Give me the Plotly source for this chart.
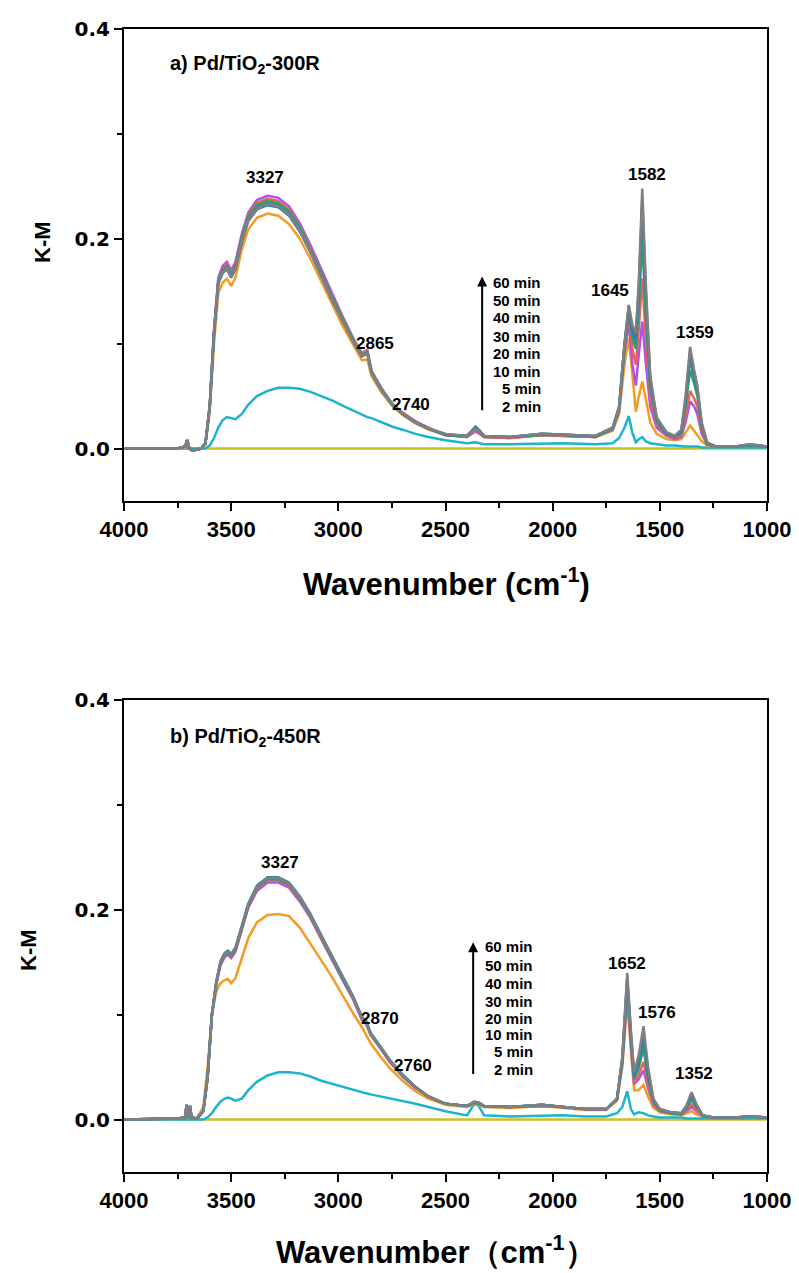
import plotly.graph_objects as go

# ---------------- data: panel a (Pd/TiO2-300R) ----------------
WN_A = [4000, 3750, 3715, 3705, 3695, 3680, 3640, 3620, 3600, 3580,
        3560, 3540, 3520, 3500, 3480, 3450, 3420, 3380, 3330, 3280,
        3230, 3180, 3130, 3080, 3030, 2980, 2930, 2890, 2865, 2845,
        2800, 2750, 2700, 2640, 2580, 2500, 2400, 2360, 2340, 2320,
        2200, 2050, 1950, 1800, 1720, 1690, 1665, 1645, 1628, 1612,
        1598, 1582, 1566, 1545, 1515, 1470, 1430, 1400, 1380, 1359,
        1340, 1325, 1305, 1280, 1240, 1150, 1080, 1000]

CYAN_A = [0, 0, 0, 0, 0, 0, 0, 0, 0.003, 0.010,
          0.020, 0.027, 0.030, 0.029, 0.028, 0.033, 0.042, 0.050, 0.055, 0.058,
          0.058, 0.057, 0.054, 0.050, 0.046, 0.041, 0.036, 0.032, 0.030, 0.029,
          0.025, 0.021, 0.018, 0.014, 0.011, 0.008, 0.005, 0.006, 0.005, 0.004,
          0.004, 0.005, 0.005, 0.004, 0.005, 0.010, 0.020, 0.031, 0.015, 0.006,
          0.009, 0.011, 0.007, 0.005, 0.004, 0.003, 0.003, 0.002, 0.002, 0.002,
          0.002, 0.002, 0.001, 0.001, 0.001, 0.001, 0.001, 0.001]
ORANGE_A = [0.000, 0.000, 0.001, 0.006, 0.000, -0.002, 0.000, 0.004, 0.035, 0.100,
            0.148, 0.158, 0.162, 0.155, 0.163, 0.190, 0.209, 0.220, 0.224, 0.222,
            0.214, 0.200, 0.181, 0.159, 0.138, 0.117, 0.098, 0.084, 0.085, 0.069,
            0.054, 0.041, 0.032, 0.024, 0.018, 0.013, 0.011, 0.016, 0.014, 0.011,
            0.010, 0.013, 0.012, 0.011, 0.017, 0.033, 0.080, 0.105, 0.070, 0.035,
            0.050, 0.064, 0.048, 0.025, 0.014, 0.009, 0.008, 0.009, 0.015, 0.022,
            0.017, 0.013, 0.007, 0.003, 0.002, 0.002, 0.003, 0.002]
MAGENTA_A = [0.000, 0.000, 0.002, 0.008, 0.000, -0.002, 0.000, 0.005, 0.041, 0.114,
             0.163, 0.174, 0.178, 0.170, 0.178, 0.205, 0.225, 0.237, 0.241, 0.239,
             0.231, 0.215, 0.194, 0.171, 0.148, 0.126, 0.105, 0.091, 0.094, 0.074,
             0.058, 0.043, 0.034, 0.026, 0.020, 0.013, 0.011, 0.017, 0.014, 0.011,
             0.010, 0.013, 0.012, 0.011, 0.018, 0.036, 0.092, 0.120, 0.080, 0.060,
             0.090, 0.121, 0.083, 0.040, 0.020, 0.012, 0.009, 0.011, 0.025, 0.045,
             0.040, 0.033, 0.014, 0.004, 0.002, 0.002, 0.003, 0.002]
RED_A = [0.000, 0.000, 0.002, 0.008, 0.000, -0.002, 0.000, 0.005, 0.041, 0.112,
         0.161, 0.172, 0.176, 0.167, 0.176, 0.202, 0.223, 0.234, 0.238, 0.236,
         0.228, 0.212, 0.192, 0.168, 0.146, 0.125, 0.104, 0.090, 0.093, 0.074,
         0.057, 0.043, 0.034, 0.026, 0.019, 0.013, 0.011, 0.018, 0.015, 0.011,
         0.010, 0.013, 0.012, 0.011, 0.019, 0.037, 0.095, 0.128, 0.095, 0.080,
         0.115, 0.162, 0.107, 0.049, 0.023, 0.013, 0.010, 0.013, 0.030, 0.055,
         0.048, 0.040, 0.017, 0.004, 0.002, 0.002, 0.003, 0.002]
GREEN_A = [0.000, 0.000, 0.002, 0.008, 0.000, -0.002, 0.000, 0.005, 0.040, 0.110,
           0.160, 0.170, 0.174, 0.166, 0.174, 0.201, 0.221, 0.232, 0.236, 0.234,
           0.226, 0.211, 0.190, 0.167, 0.145, 0.124, 0.103, 0.089, 0.092, 0.073,
           0.057, 0.043, 0.033, 0.025, 0.019, 0.013, 0.012, 0.020, 0.016, 0.012,
           0.011, 0.013, 0.013, 0.011, 0.019, 0.038, 0.097, 0.132, 0.105, 0.095,
           0.135, 0.200, 0.130, 0.058, 0.026, 0.014, 0.011, 0.015, 0.040, 0.075,
           0.062, 0.050, 0.021, 0.005, 0.002, 0.002, 0.003, 0.002]
TEAL_A = [0.000, 0.000, 0.002, 0.008, 0.000, -0.002, 0.000, 0.005, 0.040, 0.110,
          0.159, 0.169, 0.173, 0.165, 0.173, 0.199, 0.219, 0.230, 0.234, 0.232,
          0.224, 0.209, 0.189, 0.166, 0.144, 0.122, 0.102, 0.088, 0.091, 0.072,
          0.056, 0.042, 0.033, 0.025, 0.019, 0.013, 0.012, 0.021, 0.017, 0.012,
          0.011, 0.014, 0.013, 0.012, 0.020, 0.039, 0.098, 0.134, 0.110, 0.100,
          0.148, 0.225, 0.145, 0.064, 0.028, 0.015, 0.011, 0.016, 0.044, 0.085,
          0.068, 0.055, 0.023, 0.005, 0.002, 0.002, 0.003, 0.002]
BLUE_A = [0.000, 0.000, 0.002, 0.008, 0.000, -0.002, 0.000, 0.005, 0.040, 0.110,
          0.157, 0.167, 0.171, 0.163, 0.171, 0.197, 0.217, 0.228, 0.232, 0.230,
          0.222, 0.207, 0.187, 0.164, 0.142, 0.122, 0.102, 0.088, 0.091, 0.072,
          0.056, 0.042, 0.033, 0.025, 0.019, 0.014, 0.012, 0.020, 0.017, 0.012,
          0.011, 0.014, 0.013, 0.012, 0.020, 0.040, 0.099, 0.136, 0.114, 0.105,
          0.155, 0.238, 0.153, 0.067, 0.029, 0.015, 0.012, 0.017, 0.047, 0.092,
          0.072, 0.058, 0.024, 0.006, 0.002, 0.002, 0.004, 0.002]
GRAY_A = [0.000, 0.000, 0.002, 0.008, 0.000, -0.002, 0.000, 0.005, 0.040, 0.110,
          0.158, 0.168, 0.172, 0.164, 0.172, 0.198, 0.218, 0.229, 0.233, 0.231,
          0.223, 0.208, 0.188, 0.165, 0.143, 0.122, 0.102, 0.088, 0.091, 0.072,
          0.056, 0.042, 0.033, 0.025, 0.019, 0.014, 0.012, 0.019, 0.016, 0.012,
          0.011, 0.014, 0.013, 0.012, 0.020, 0.040, 0.100, 0.137, 0.118, 0.110,
          0.160, 0.248, 0.160, 0.070, 0.030, 0.016, 0.012, 0.018, 0.050, 0.097,
          0.075, 0.060, 0.025, 0.006, 0.002, 0.002, 0.004, 0.002]

# ---------------- data: panel b (Pd/TiO2-450R) ----------------
WN_B = [4000, 3750, 3715, 3708, 3700, 3692, 3685, 3660, 3630, 3610,
        3590, 3570, 3550, 3530, 3515, 3500, 3480, 3450, 3420, 3380,
        3330, 3280, 3230, 3180, 3130, 3080, 3030, 2980, 2930, 2890,
        2870, 2850, 2800, 2760, 2700, 2640, 2580, 2500, 2400, 2365,
        2345, 2320, 2200, 2050, 1950, 1850, 1750, 1700, 1675, 1652,
        1635, 1620, 1600, 1576, 1555, 1530, 1500, 1450, 1400, 1375,
        1352, 1330, 1300, 1250, 1150, 1080, 1000]

CYAN_B = [0, 0, 0, 0, 0, 0, 0, 0, 0.000, 0.002,
          0.006, 0.012, 0.017, 0.020, 0.021, 0.020, 0.018, 0.020, 0.028, 0.036,
          0.042, 0.045, 0.045, 0.044, 0.041, 0.037, 0.034, 0.031, 0.028, 0.026,
          0.025, 0.024, 0.022, 0.020, 0.018, 0.015, 0.012, 0.008, 0.004, 0.015,
          0.013, 0.004, 0.003, 0.004, 0.004, 0.003, 0.003, 0.006, 0.012, 0.027,
          0.010, 0.005, 0.007, 0.006, 0.004, 0.003, 0.002, 0.002, 0.002, 0.001,
          0.001, 0.001, 0.001, 0.001, 0.001, 0.001, 0.001]
ORANGE_B = [0.000, 0.001, 0.002, 0.012, 0.002, 0.011, 0.002, 0.001, 0.012, 0.050,
            0.100, 0.122, 0.130, 0.133, 0.134, 0.130, 0.135, 0.155, 0.173, 0.188,
            0.195, 0.196, 0.194, 0.183, 0.168, 0.152, 0.136, 0.118, 0.101, 0.088,
            0.080, 0.073, 0.059, 0.049, 0.037, 0.027, 0.020, 0.014, 0.012, 0.015,
            0.014, 0.012, 0.011, 0.013, 0.011, 0.009, 0.009, 0.018, 0.050, 0.114,
            0.065, 0.028, 0.028, 0.033, 0.022, 0.011, 0.007, 0.005, 0.004, 0.006,
            0.008, 0.005, 0.003, 0.002, 0.002, 0.003, 0.002]
MAGENTA_B = [0.000, 0.001, 0.002, 0.014, 0.002, 0.013, 0.002, 0.001, 0.008, 0.040,
             0.098, 0.128, 0.147, 0.155, 0.157, 0.154, 0.160, 0.182, 0.202, 0.218,
             0.226, 0.226, 0.221, 0.208, 0.192, 0.172, 0.152, 0.133, 0.114, 0.095,
             0.091, 0.081, 0.067, 0.055, 0.041, 0.030, 0.022, 0.015, 0.013, 0.016,
             0.015, 0.013, 0.012, 0.013, 0.012, 0.010, 0.010, 0.019, 0.054, 0.120,
             0.072, 0.034, 0.038, 0.047, 0.030, 0.014, 0.008, 0.006, 0.005, 0.008,
             0.012, 0.008, 0.003, 0.002, 0.002, 0.003, 0.002]
RED_B = [0.000, 0.001, 0.002, 0.014, 0.002, 0.013, 0.002, 0.001, 0.008, 0.040,
         0.099, 0.129, 0.149, 0.156, 0.158, 0.155, 0.161, 0.183, 0.203, 0.220,
         0.228, 0.228, 0.223, 0.210, 0.193, 0.173, 0.153, 0.134, 0.115, 0.096,
         0.092, 0.081, 0.067, 0.055, 0.042, 0.031, 0.022, 0.015, 0.013, 0.016,
         0.015, 0.013, 0.012, 0.013, 0.012, 0.010, 0.010, 0.019, 0.055, 0.124,
         0.075, 0.036, 0.042, 0.055, 0.034, 0.015, 0.008, 0.006, 0.005, 0.009,
         0.015, 0.009, 0.003, 0.002, 0.002, 0.003, 0.002]
GREEN_B = [0.000, 0.001, 0.002, 0.014, 0.002, 0.013, 0.002, 0.001, 0.008, 0.040,
           0.100, 0.129, 0.149, 0.157, 0.159, 0.156, 0.162, 0.184, 0.204, 0.221,
           0.229, 0.229, 0.224, 0.211, 0.194, 0.174, 0.154, 0.134, 0.116, 0.097,
           0.093, 0.082, 0.068, 0.056, 0.042, 0.031, 0.022, 0.015, 0.013, 0.016,
           0.015, 0.013, 0.012, 0.014, 0.012, 0.010, 0.010, 0.019, 0.056, 0.128,
           0.078, 0.039, 0.048, 0.068, 0.040, 0.017, 0.009, 0.006, 0.005, 0.011,
           0.020, 0.012, 0.004, 0.002, 0.002, 0.003, 0.002]
TEAL_B = [0.000, 0.001, 0.002, 0.014, 0.002, 0.013, 0.002, 0.001, 0.008, 0.040,
          0.100, 0.131, 0.151, 0.159, 0.161, 0.158, 0.164, 0.186, 0.206, 0.223,
          0.231, 0.231, 0.226, 0.213, 0.196, 0.176, 0.156, 0.136, 0.117, 0.098,
          0.094, 0.083, 0.069, 0.057, 0.043, 0.031, 0.022, 0.015, 0.013, 0.017,
          0.016, 0.013, 0.012, 0.014, 0.012, 0.010, 0.010, 0.020, 0.057, 0.132,
          0.080, 0.041, 0.052, 0.075, 0.043, 0.018, 0.009, 0.007, 0.006, 0.012,
          0.022, 0.013, 0.004, 0.002, 0.002, 0.003, 0.002]
BLUE_B = [0.000, 0.001, 0.002, 0.014, 0.002, 0.013, 0.002, 0.001, 0.008, 0.040,
          0.100, 0.130, 0.150, 0.158, 0.160, 0.157, 0.163, 0.185, 0.205, 0.222,
          0.230, 0.230, 0.225, 0.212, 0.195, 0.175, 0.155, 0.135, 0.116, 0.097,
          0.093, 0.082, 0.068, 0.056, 0.042, 0.031, 0.022, 0.015, 0.013, 0.017,
          0.016, 0.013, 0.012, 0.014, 0.012, 0.010, 0.010, 0.020, 0.058, 0.136,
          0.082, 0.043, 0.056, 0.083, 0.047, 0.019, 0.010, 0.007, 0.006, 0.013,
          0.024, 0.014, 0.004, 0.002, 0.002, 0.003, 0.002]
GRAY_B = [0.000, 0.001, 0.002, 0.014, 0.002, 0.013, 0.002, 0.001, 0.008, 0.040,
          0.100, 0.130, 0.150, 0.158, 0.160, 0.157, 0.163, 0.185, 0.205, 0.222,
          0.230, 0.230, 0.225, 0.212, 0.195, 0.175, 0.155, 0.135, 0.116, 0.097,
          0.093, 0.082, 0.068, 0.056, 0.042, 0.031, 0.022, 0.015, 0.013, 0.017,
          0.016, 0.013, 0.012, 0.014, 0.012, 0.010, 0.010, 0.020, 0.060, 0.140,
          0.085, 0.045, 0.060, 0.089, 0.050, 0.020, 0.010, 0.007, 0.006, 0.014,
          0.026, 0.015, 0.004, 0.002, 0.002, 0.003, 0.002]

# reference (0 min) spectrum: flat zero line
BASE_WN = [4000, 3000, 2000, 1000]
BASE_KM = [0.0, 0.0, 0.0, 0.0]

TIME_LABELS = ["60 min", "50 min", "40 min", "30 min", "20 min", "10 min", "5 min", "2 min"]
X_TICKS = [4000, 3500, 3000, 2500, 2000, 1500, 1000]
Y_TICKS = [0.0, 0.2, 0.4]

PEAKS_A = [("3327", 3342, 0.258), ("2865", 2829, 0.100), ("2740", 2661, 0.042),
           ("1645", 1732, 0.151), ("1582", 1560, 0.261), ("1359", 1336, 0.111)]
PEAKS_B = [("3327", 3272, 0.245), ("2870", 2805, 0.096), ("2760", 2651, 0.052),
           ("1652", 1653, 0.149), ("1576", 1513, 0.102), ("1352", 1340, 0.044)]

COLORS = {"base": "#c9c227", "c2": "#1cb3cf", "c5": "#f59a23", "c10": "#b150ea",
          "c20": "#ec6158", "c30": "#26a66b", "c40": "#2b8f95", "c50": "#3b76b5",
          "c60": "#808080"}

SERIES_A = [("2 min", CYAN_A, "c2"), ("5 min", ORANGE_A, "c5"), ("10 min", MAGENTA_A, "c10"),
            ("20 min", RED_A, "c20"), ("30 min", GREEN_A, "c30"), ("40 min", TEAL_A, "c40"),
            ("50 min", BLUE_A, "c50"), ("60 min", GRAY_A, "c60")]
SERIES_B = [("2 min", CYAN_B, "c2"), ("5 min", ORANGE_B, "c5"), ("10 min", MAGENTA_B, "c10"),
            ("20 min", RED_B, "c20"), ("30 min", GREEN_B, "c30"), ("40 min", TEAL_B, "c40"),
            ("50 min", BLUE_B, "c50"), ("60 min", GRAY_B, "c60")]

# page offset: the browser puts the figure 8 px in from the top-left corner
OFF = 8
W, H = 799 - OFF, 1273 - OFF
BOLD = "Liberation Sans, Arial, sans-serif"

fig = go.Figure()

for xa, ya, wn, series in (("x", "y", WN_A, SERIES_A), ("x2", "y2", WN_B, SERIES_B)):
    fig.add_trace(go.Scatter(x=BASE_WN, y=BASE_KM, mode="lines", name="0 min",
                             line=dict(color=COLORS["base"], width=2.5),
                             xaxis=xa, yaxis=ya, showlegend=False))
    for name, vals, ck in series:
        fig.add_trace(go.Scatter(x=wn, y=vals, mode="lines", name=name,
                                 line=dict(color=COLORS[ck], width=2.5),
                                 xaxis=xa, yaxis=ya, showlegend=False))

def px(x, y):
    return (x - OFF) / W, 1 - (y - OFF) / H

common = dict(showline=True, linecolor="black", linewidth=2, mirror=True,
              ticks="outside", tickcolor="black", tickwidth=2, ticklen=8,
              showgrid=False, zeroline=False, automargin=False)

def xaxis_cfg(anchor):
    return dict(common, domain=[px(124, 0)[0], px(767, 0)[0]], range=[4000, 1000], anchor=anchor,
                tickmode="array", tickvals=X_TICKS, ticktext=[str(v) for v in X_TICKS],
                tickfont=dict(family=BOLD, size=22, color="black", weight="bold"),
                minor=dict(tickmode="linear", tick0=1000, dtick=250, ticks="outside",
                           ticklen=5, tickwidth=2, tickcolor="black"))

def yaxis_cfg(top, bottom, anchor):
    return dict(common, domain=[px(0, bottom)[1], px(0, top)[1]], range=[-0.05, 0.4], anchor=anchor,
                tickmode="array", tickvals=Y_TICKS, ticktext=["%.1f" % v for v in Y_TICKS],
                tickfont=dict(family="DejaVu Sans, sans-serif", size=20, color="black", weight="bold"),
                minor=dict(tickmode="linear", tick0=0, dtick=0.1, ticks="outside",
                           ticklen=5, tickwidth=2, tickcolor="black"))

fig.update_layout(
    width=W, height=H, margin=dict(l=0, r=0, t=0, b=0, autoexpand=False),
    paper_bgcolor="white", plot_bgcolor="white", showlegend=False,
    xaxis=xaxis_cfg("y"), yaxis=yaxis_cfg(29, 501, "x"),
    xaxis2=xaxis_cfg("y2"), yaxis2=yaxis_cfg(700, 1172, "x2"),
)

ann = []
def txt(text, x, y, size, xref="paper", yref="paper", xanchor="center", family=BOLD):
    ann.append(dict(text=text, x=x, y=y, xref=xref, yref=yref, showarrow=False,
                    xanchor=xanchor, yanchor="middle",
                    font=dict(family=family, size=size, color="black", weight="bold")))

# panel titles
txt("a) Pd/TiO<sub>2</sub>-300R", 3795, 0.366, 20, "x", "y", "left")
txt("b) Pd/TiO<sub>2</sub>-450R", 3795, 0.364, 20, "x2", "y2", "left")

for lab, xv, yv in PEAKS_A:
    txt(lab, xv, yv, 17, "x", "y")
for lab, xv, yv in PEAKS_B:
    txt(lab, xv, yv, 17, "x2", "y2")

# time labels + arrows
ya_list = [0.158, 0.141, 0.125, 0.107, 0.091, 0.073, 0.057, 0.040]
yb_list = [0.165, 0.147, 0.130, 0.113, 0.096, 0.081, 0.065, 0.048]
for lab, yv in zip(TIME_LABELS, ya_list):
    txt(lab, 2045, yv, 15, "x", "y", "right")
for lab, yv in zip(TIME_LABELS, yb_list):
    txt(lab, 2082, yv, 15, "x2", "y2", "right")

ann.append(dict(x=2329, y=0.164, ax=2329, ay=0.035, xref="x", yref="y", axref="x", ayref="y",
                text="", showarrow=True, arrowhead=2, arrowsize=1, arrowwidth=2, arrowcolor="black"))
ann.append(dict(x=2371, y=0.169, ax=2371, ay=0.042, xref="x2", yref="y2", axref="x2", ayref="y2",
                text="", showarrow=True, arrowhead=2, arrowsize=1, arrowwidth=2, arrowcolor="black"))

# axis titles
xa, ya = px(446, 582)
txt("Wavenumber (cm<sup>-1</sup>)", xa, ya, 31)
xa, ya = px(436, 1250)
txt("Wavenumber（cm<sup>-1</sup>）", xa, ya, 31)

for (cx, cy) in ((42, 242), (28, 950)):
    xk, yk = px(cx, cy)
    ann.append(dict(text="K-M", x=xk, y=yk, xref="paper", yref="paper", showarrow=False,
                    textangle=-90, xanchor="center", yanchor="middle",
                    font=dict(family=BOLD, size=22, color="black", weight="bold")))

fig.update_layout(annotations=ann)
fig.write_html("out.html")
